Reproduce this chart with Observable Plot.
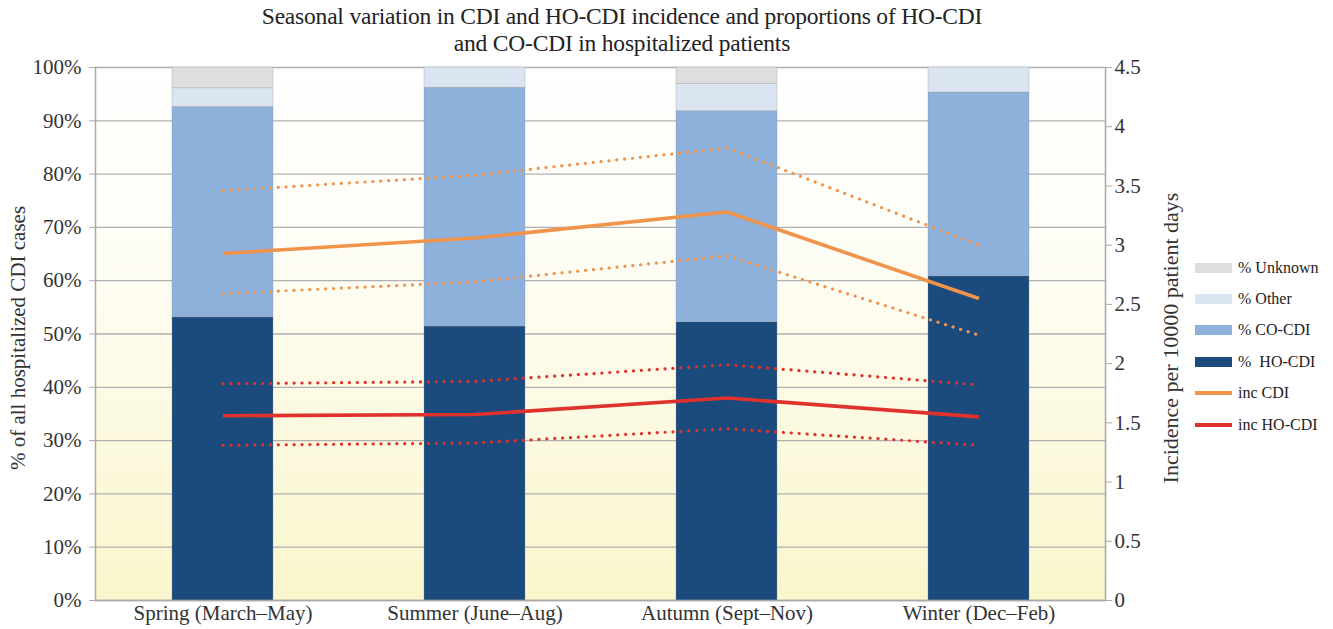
<!DOCTYPE html>
<html>
<head>
<meta charset="utf-8">
<script src="https://cdn.jsdelivr.net/npm/d3@7"></script>
<script src="https://cdn.jsdelivr.net/npm/@observablehq/plot@0.6"></script>
<style>
  html, body { margin: 0; padding: 0; background: #fff; }
  #wrap { position: relative; width: 1333px; height: 629px; font-family: "Liberation Serif", "DejaVu Serif", serif; color: #333; }
  #wrap svg { position: absolute; left: 0; top: 0; }
  #title { position: absolute; left: 222px; width: 800px; top: 3px; text-align: center; font-size: 23.5px; line-height: 27px; color: #222; letter-spacing: -0.2px; }
  #legend { position: absolute; left: 1195px; top: 252px; font-size: 16px; color: #222; }
  .row { display: flex; align-items: center; height: 31.4px; }
  .sw { width: 37px; margin-right: 6px; }
</style>
</head>
<body>
<div id="wrap">
  <div id="title">Seasonal variation in CDI and HO-CDI incidence and proportions of HO-CDI<br>and CO-CDI in hospitalized patients</div>
  <div id="legend"></div>
</div>
<script>
// ---- data ----
const seasons = ["Spring (March–May)", "Summer (June–Aug)", "Autumn (Sept–Nov)", "Winter (Dec–Feb)"];
const pctHO = [53.1, 51.4, 52.2, 60.8];
const pctCO = [39.5, 44.8, 39.6, 34.5];
const pctOther = [3.5, 3.8, 5.1, 4.7];
const pctUnknown = [3.9, 0, 3.1, 0];
const incCDI = [2.93, 3.06, 3.28, 2.55];
const incCDIHigh = [3.46, 3.59, 3.82, 3.0];
const incCDILow = [2.59, 2.69, 2.91, 2.24];
const incHO = [1.56, 1.57, 1.71, 1.55];
const incHOHigh = [1.83, 1.85, 1.99, 1.82];
const incHOLow = [1.31, 1.33, 1.45, 1.31];
const leftTicks = [0, 10, 20, 30, 40, 50, 60, 70, 80, 90, 100];
const rightTicks = [0, 0.5, 1, 1.5, 2, 2.5, 3, 3.5, 4, 4.5];
const rightMax = 4.5;

const barSeries = [
  {name: "% HO-CDI", label: "%  HO-CDI", values: pctHO, color: "#1b4a7d"},
  {name: "% CO-CDI", label: "% CO-CDI", values: pctCO, color: "#8eb1dc"},
  {name: "% Other", label: "% Other", values: pctOther, color: "#dbe5f1"},
  {name: "% Unknown", label: "% Unknown", values: pctUnknown, color: "#dedede"}
];
const lineSeries = [
  {name: "inc CDI", values: incCDI, color: "#f0944b", dotted: false},
  {name: "inc CDI high", values: incCDIHigh, color: "#f0944b", dotted: true},
  {name: "inc CDI low", values: incCDILow, color: "#f0944b", dotted: true},
  {name: "inc HO-CDI", values: incHO, color: "#e0322c", dotted: false},
  {name: "inc HO-CDI high", values: incHOHigh, color: "#e0322c", dotted: true},
  {name: "inc HO-CDI low", values: incHOLow, color: "#e0322c", dotted: true}
];

const bars = barSeries.flatMap(s => seasons.map((season, i) => ({season, series: s.name, value: s.values[i], color: s.color})));
const toLeft = v => v / rightMax * 100;

const font = "Liberation Serif";

const defs = () => {
  const d = d3.create("svg:defs");
  const g = d.append("linearGradient").attr("id", "bg").attr("x1", 0).attr("y1", 0).attr("x2", 0).attr("y2", 1);
  g.append("stop").attr("offset", "0%").attr("stop-color", "#ffffff");
  g.append("stop").attr("offset", "35%").attr("stop-color", "#fefdf5");
  g.append("stop").attr("offset", "100%").attr("stop-color", "#faf6cc");
  return d.node();
};

const lineMarks = lineSeries.map(s => Plot.line(seasons.map((season, i) => ({season, v: s.values[i]})), {
  x: "season",
  y: d => toLeft(d.v),
  stroke: s.color,
  strokeWidth: s.dotted ? 3.2 : 3.6,
  strokeDasharray: s.dotted ? "0.1 7.8" : null,
  strokeLinecap: s.dotted ? "round" : "butt"
}));

const chart = Plot.plot({
  width: 1333,
  height: 629,
  marginLeft: 95,
  marginRight: 228,
  marginTop: 67,
  marginBottom: 29,
  style: {fontFamily: font, color: "#333", background: "transparent"},
  x: {domain: seasons, paddingInner: 0.6, paddingOuter: 0.3, label: null},
  y: {domain: [0, 100], label: null},
  marks: [
    defs,
    Plot.frame({fill: "url(#bg)", stroke: null}),
    Plot.gridY(leftTicks, {stroke: "#b0b0b0", strokeOpacity: 1, strokeWidth: 1.3}),
    Plot.barY(bars, Plot.stackY({x: "season", y: "value", fill: "color", order: null, stroke: "#8c8c8c", strokeWidth: 0.6, strokeOpacity: 0.5})),
    ...lineMarks,
    Plot.ruleY([0], {stroke: "#a9a9a9", strokeWidth: 1.3}),
    Plot.frame({anchor: "left", stroke: "#a9a9a9", strokeWidth: 1.5}),
    Plot.frame({anchor: "right", stroke: "#a9a9a9", strokeWidth: 1.5}),
    Plot.axisY(leftTicks, {anchor: "left", tickFormat: d => d + "%", fontSize: 21, tickSize: 6, tickPadding: 8, stroke: "#a9a9a9", fill: "#333", label: null}),
    Plot.axisY(rightTicks.map(toLeft), {anchor: "right", tickFormat: d => String(Math.round(d * rightMax / 100 * 10) / 10), fontSize: 21, tickSize: 6, tickPadding: 3, stroke: "#a9a9a9", fill: "#333", label: null}),
    Plot.axisX({tickSize: 0, tickPadding: 5, fontSize: 21, fill: "#333", label: null}),
    Plot.text(["% of all hospitalized CDI cases"], {frameAnchor: "left", textAnchor: "middle", rotate: -90, dx: -77, dy: 4, fontSize: 21, fill: "#333"}),
    Plot.text(["Incidence per 10000 patient days"], {frameAnchor: "right", textAnchor: "middle", rotate: -90, dx: 65, dy: 4, fontSize: 22, fill: "#333"})
  ]
});
document.getElementById("wrap").prepend(chart);

// legend
const legendItems = [
  ...barSeries.slice().reverse().map(s => ({label: s.label, color: s.color, type: "bar"})),
  {label: "inc CDI", color: "#f0944b", type: "line"},
  {label: "inc HO-CDI", color: "#e0322c", type: "line"}
];
const lg = d3.select("#legend");
for (const it of legendItems) {
  const row = lg.append("div").attr("class", "row");
  row.append("div").attr("class", "sw")
    .style("height", it.type === "bar" ? "10px" : "4px")
    .style("background", it.color);
  row.append("span").style("white-space", "pre").text(it.label);
}
</script>
</body>
</html>
